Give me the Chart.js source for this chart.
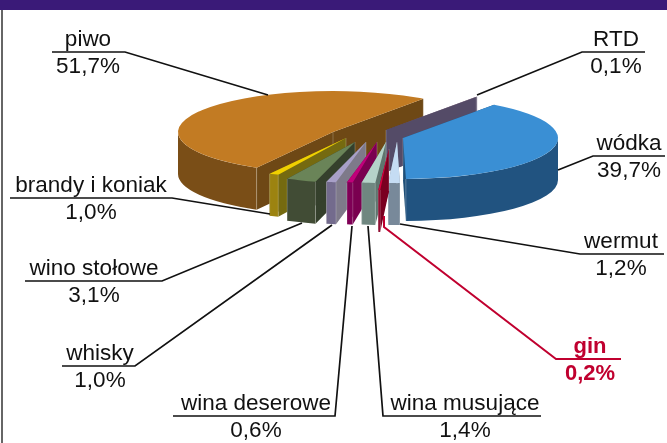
<!DOCTYPE html>
<html lang="pl">
<head>
<meta charset="utf-8">
<title>Struktura rynku alkoholi</title>
<script src="https://cdn.jsdelivr.net/npm/chart.js@4/dist/chart.umd.min.js"></script>
<style>
  html, body { margin: 0; padding: 0; background: #fff; }
  #frame { position: relative; width: 667px; height: 443px; overflow: hidden; }
  #topBar { position: absolute; left: 0; top: 0; width: 667px; height: 10px; background: #3a1a78; }
  #leftRule { position: absolute; left: 1px; top: 10px; width: 1.5px; height: 433px; background: #666; }
  canvas { position: absolute; left: 0; top: 0; }
</style>
</head>
<body>
<div id="frame">
  <div id="topBar"></div>
  <div id="leftRule"></div>
  <canvas id="pie" width="667" height="443"></canvas>
</div>
<script>
// Data, clockwise from the top edge of the vodka slice
const categories = ['wódka', 'wermut', 'gin', 'wina musujące', 'wina deserowe', 'whisky', 'wino stołowe', 'brandy i koniak', 'piwo', 'RTD'];
const shares = [39.7, 1.2, 0.2, 1.4, 0.6, 1.0, 3.1, 1.0, 51.7, 0.1];

// Colours per slice
const topColors = ['#3a8fd4', '#c5dcf3', '#d6003f', '#b5d3c9', '#c0007a', '#a8a0c8', '#6a8458', '#f0d000', '#c27b23', '#8a6a80'];
const outerColors = ['#215380', '#78899a', '#8a0028', '#6f8780', '#7f0056', '#736b8d', '#414c35', '#9c8310', '#7a4e17', '#544b67'];
const innerColors = ['#1f4f78', '#78899a', '#7a0020', '#5f756e', '#7a0050', '#7e7a8a', '#35402c', '#756a10', '#6e4815', '#544b67'];

// Layout of the exploded pie
const RADIUS = 155;
const SQUASH = 0.2645;
const DEPTH = 42;
const sliceTips = [[403, 138], [397, 142], [389, 149], [386, 142], [377, 142], [366, 142], [355, 142], [346, 138], [333, 132], [386, 130]];
const paintOrder = [8, 9, 0, 7, 6, 5, 4, 3, 1, 2];

// Callouts: x of the text centre, y of the rule, and the leader running to the slice
const callouts = [
  { x: 629, y: 156, path: [[558, 170], [593, 156], [665, 156]] },
  { x: 621, y: 254, path: [[400, 224], [580, 254], [664, 254]] },
  { x: 590, y: 359, path: [[384, 216], [384, 227], [556, 359], [621, 359]], color: '#c0002f', bold: true },
  { x: 465, y: 416, path: [[368, 226], [383, 416], [541, 416]] },
  { x: 256, y: 416, path: [[352, 226], [335, 416], [173, 416]] },
  { x: 100, y: 366, path: [[332, 225], [135, 366], [62, 366]] },
  { x: 94, y: 281, path: [[302, 223], [162, 281], [25, 281]] },
  { x: 91, y: 198, path: [[270, 214], [172, 198], [10, 198]] },
  { x: 88, y: 52, path: [[268, 95], [125, 52], [52, 52]] },
  { x: 616, y: 52, path: [[477, 95], [582, 52], [645, 52]] },
];

function fillWall(ctx, color, trace) {
  ctx.beginPath();
  trace();
  ctx.closePath();
  ctx.fillStyle = color;
  ctx.fill();
}

// Side walls of one slice, radial faces first, then the front part of the rim
function drawWalls(ctx, arc, i) {
  const [tx, ty] = sliceTips[i];
  const rx = arc.outerRadius, ry = rx * SQUASH;
  const a0 = arc.startAngle, a1 = arc.endAngle;
  const edge = a => [tx + rx * Math.cos(a), ty + ry * Math.sin(a)];

  [a0, a1].forEach(a => {
    const [ex, ey] = edge(a);
    fillWall(ctx, innerColors[i], () => {
      ctx.moveTo(tx, ty);
      ctx.lineTo(ex, ey);
      ctx.lineTo(ex, ey + DEPTH);
      ctx.lineTo(tx, ty + DEPTH);
    });
  });

  const from = Math.max(a0, 0), to = Math.min(a1, Math.PI);
  if (to > from) {
    fillWall(ctx, outerColors[i], () => {
      ctx.ellipse(tx, ty, rx, ry, 0, from, to);
      ctx.ellipse(tx, ty + DEPTH, rx, ry, 0, to, from, true);
    });
  }

  // pale seams on the vertical corners
  ctx.strokeStyle = 'rgba(255,255,255,.22)';
  ctx.lineWidth = 1;
  [edge(a0), edge(a1), [tx, ty]].forEach(([x, y]) => {
    ctx.beginPath();
    ctx.moveTo(x, y);
    ctx.lineTo(x, y + DEPTH);
    ctx.stroke();
  });
}

// Replaces the flat pie drawing: each arc is squashed and moved to its own tip
const explodedPiePlugin = {
  id: 'explodedPie',
  beforeDatasetDraw(chart) {
    const { ctx } = chart;
    const arcs = chart.getDatasetMeta(0).data;
    paintOrder.forEach(i => {
      const arc = arcs[i];
      drawWalls(ctx, arc, i);
      ctx.save();
      ctx.translate(sliceTips[i][0], sliceTips[i][1]);
      ctx.scale(1, SQUASH);
      ctx.translate(-arc.x, -arc.y);
      arc.draw(ctx);
      ctx.restore();
    });
    return false;
  },
  afterDraw(chart) {
    const { ctx } = chart;
    ctx.save();
    ctx.textAlign = 'center';
    ctx.textBaseline = 'alphabetic';
    callouts.forEach((c, i) => {
      const color = c.color || '#111';
      ctx.beginPath();
      c.path.forEach(([x, y], n) => n ? ctx.lineTo(x, y) : ctx.moveTo(x, y));
      ctx.strokeStyle = color;
      ctx.lineWidth = c.bold ? 2 : 1.7;
      ctx.lineJoin = 'miter';
      ctx.stroke();

      ctx.fillStyle = color;
      ctx.font = (c.bold ? 'bold 22px' : '22.5px') + ' "Liberation Sans", Arial, sans-serif';
      ctx.fillText(categories[i], c.x, c.y - 6);
      ctx.fillText(shares[i].toFixed(1).replace('.', ',') + '%', c.x, c.y + 21);
    });
    ctx.restore();
  },
};

new Chart(document.getElementById('pie'), {
  type: 'pie',
  data: {
    labels: categories,
    datasets: [{
      data: shares,
      backgroundColor: topColors,
      borderWidth: 0,
      radius: RADIUS,
    }],
  },
  options: {
    responsive: false,
    animation: false,
    rotation: 36,
    events: [],
    plugins: { legend: { display: false }, tooltip: { enabled: false } },
  },
  plugins: [explodedPiePlugin],
});
</script>
</body>
</html>
